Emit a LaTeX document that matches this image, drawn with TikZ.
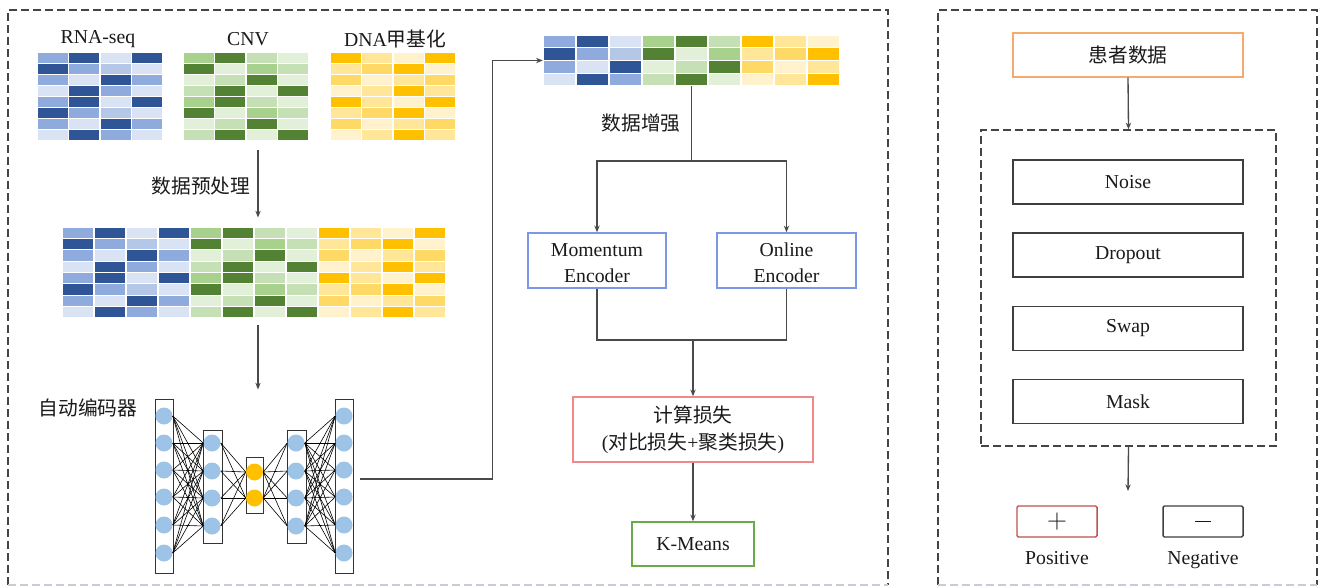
\documentclass[tikz,border=0pt]{standalone}
\usepackage{fontspec}
\setmainfont{Liberation Serif}
\newfontfamily\cjk{Noto Sans CJK SC}
\usetikzlibrary{arrows.meta,calc}
\definecolor{b1}{HTML}{DAE3F3}
\definecolor{b2}{HTML}{B4C7E7}
\definecolor{b3}{HTML}{8FAADC}
\definecolor{b4}{HTML}{2F5597}
\definecolor{g1}{HTML}{E2F0D9}
\definecolor{g2}{HTML}{C5E0B4}
\definecolor{g3}{HTML}{A9D18E}
\definecolor{g4}{HTML}{548235}
\definecolor{y1}{HTML}{FFF2CC}
\definecolor{y2}{HTML}{FFE699}
\definecolor{y3}{HTML}{FFD966}
\definecolor{y4}{HTML}{FFC000}
\definecolor{conn}{HTML}{4A4A4A}
\definecolor{txt}{HTML}{1A1A1A}
\definecolor{encb}{HTML}{7C97E6}
\definecolor{lossr}{HTML}{F08A8A}
\definecolor{kmg}{HTML}{6AAA48}
\definecolor{orng}{HTML}{F5AA6E}
\definecolor{posr}{HTML}{C0504D}
\definecolor{boxk}{HTML}{3F3F3F}
\definecolor{nb}{HTML}{9DC3E6}
\definecolor{nor}{HTML}{FFC000}
\definecolor{pdash}{HTML}{444444}
\definecolor{pdashl}{HTML}{C9CCD6}
% heatmap: x0, y0, cell w, cell h, rows
\newcommand{\heatmap}[5]{%
  \foreach \rw [count=\ri] in {#5}{%
    \foreach \cc [count=\ci] in \rw {%
      \fill[fill=\cc, draw=white, line width=0.8pt]
        ({#1+(\ci-1)*#3},{#2+(\ri-1)*#4}) rectangle ++(#3,#4);
    }%
  }%
}
\begin{document}
\begin{tikzpicture}[x=0.75pt,y=-0.75pt,
  every node/.style={font=\fontsize{14.8}{19.5}\selectfont, text=txt},
  arr/.style={draw=conn, line width=1pt, -{Stealth[length=5pt,width=4pt]}},
  ln/.style={draw=conn, line width=1pt},
  box/.style={draw=#1, line width=1.1pt, fill=white, inner sep=0pt, align=center},
  sym/.style={draw=#1, line width=1.1pt, fill=white, inner sep=0pt, rounded corners=1pt,
    minimum width=60pt, minimum height=23.25pt, font=\fontsize{20}{20}\selectfont},
  panel/.style={draw=pdash, line width=1pt, dash pattern=on 6pt off 3pt},
  panell/.style={draw=pdashl, line width=1pt, dash pattern=on 6pt off 3pt},
  hm/.style={inner sep=0pt, draw=none},
  layer/.style={draw=black!80, line width=0.6pt, inner sep=0pt},
  neuron/.style={circle, fill=#1, inner sep=0pt, minimum size=12.75pt},
  edge/.style={draw=black, line width=0.45pt}]
\useasboundingbox (0,0) rectangle (1323,588);

% ---------- panels ----------
\draw[panel] (8,585) -- (8,10) -- (888,10) -- (888,585);
\draw[panell] (8,585) -- (888,585);
\draw[panel] (938,585) -- (938,10) -- (1317,10) -- (1317,585);
\draw[panell] (938,585) -- (1317,585);

% ---------- top heatmaps ----------
\node (lRNA) at (98,39) {RNA-seq};
\node (lCNV) at (248,39) {CNV};
\node (lDNA) at (395,39) {DNA{\cjk 甲基化}};

\heatmap{37}{52}{31.5}{11.125}{{b3,b4,b1,b4},{b4,b3,b2,b1},{b3,b1,b4,b3},{b1,b4,b3,b1},{b3,b4,b1,b4},{b4,b3,b2,b1},{b3,b1,b4,b3},{b1,b4,b3,b1}}
\heatmap{183}{52}{31.5}{11.125}{{g3,g4,g2,g1},{g4,g1,g3,g2},{g1,g2,g4,g1},{g2,g4,g1,g4},{g3,g4,g2,g1},{g4,g1,g3,g2},{g1,g2,g4,g1},{g2,g4,g1,g4}}
\heatmap{330}{52}{31.5}{11.125}{{y4,y2,y1,y4},{y2,y3,y4,y1},{y3,y1,y2,y3},{y1,y2,y4,y2},{y4,y2,y1,y4},{y2,y3,y4,y1},{y3,y1,y2,y3},{y1,y2,y4,y2}}
\node[hm, minimum width=94.5pt, minimum height=66.75pt] (hmR) at (100,96.5) {};
\node[hm, minimum width=94.5pt, minimum height=66.75pt] (hmC) at (246,96.5) {};
\node[hm, minimum width=94.5pt, minimum height=66.75pt] (hmD) at (393,96.5) {};

% ---------- combined heatmap ----------
\heatmap{62}{227}{32}{11.375}{{b3,b4,b1,b4},{b4,b3,b2,b1},{b3,b1,b4,b3},{b1,b4,b3,b1},{b3,b4,b1,b4},{b4,b3,b2,b1},{b3,b1,b4,b3},{b1,b4,b3,b1}}
\heatmap{190}{227}{32}{11.375}{{g3,g4,g2,g1},{g4,g1,g3,g2},{g1,g2,g4,g1},{g2,g4,g1,g4},{g3,g4,g2,g1},{g4,g1,g3,g2},{g1,g2,g4,g1},{g2,g4,g1,g4}}
\heatmap{318}{227}{32}{11.375}{{y4,y2,y1,y4},{y2,y3,y4,y1},{y3,y1,y2,y3},{y1,y2,y4,y2},{y4,y2,y1,y4},{y2,y3,y4,y1},{y3,y1,y2,y3},{y1,y2,y4,y2}}
\node[hm, minimum width=288pt, minimum height=68.25pt] (hm2) at (254,272.5) {};

\node (lpre) at (201,186) {\cjk 数据预处理};
\draw[arr] ([xshift=9pt,yshift=-6.75pt]hmC.south) -- ([xshift=3pt,yshift=7pt]hm2.north);

% ---------- autoencoder ----------
\node (lae) at (88,408) {\cjk 自动编码器};
\node[hm, minimum width=148.5pt, minimum height=130.5pt] (ae) at (254,486) {};
\draw[arr] ([xshift=3pt,yshift=-5.25pt]hm2.south) -- ([xshift=3pt,yshift=7pt]ae.north);

\node[layer, minimum width=13.5pt, minimum height=130.5pt] (r1) at (164,486) {};
\node[layer, minimum width=14.25pt, minimum height=84.75pt] (r2) at (212.5,486.5) {};
\node[layer, minimum width=12.75pt, minimum height=42pt] (r3) at (254.5,485) {};
\node[layer, minimum width=14.25pt, minimum height=84.75pt] (r4) at (296.5,486.5) {};
\node[layer, minimum width=13.5pt, minimum height=130.5pt] (r5) at (344,486) {};

\foreach \yy [count=\i] in {416,443,470,497,525,553} {
  \node[neuron=nb] (a\i) at (164,\yy) {};
  \node[neuron=nb] (e\i) at (344,\yy) {};
}
\foreach \yy [count=\i] in {443,471,498,526} {
  \node[neuron=nb] (b\i) at (212,\yy) {};
  \node[neuron=nb] (d\i) at (296,\yy) {};
}
\foreach \yy [count=\i] in {472,498} {
  \node[neuron=nor] (c\i) at (254.5,\yy) {};
}
\foreach \i in {1,...,6} {
  \foreach \j in {1,...,4} {
    \draw[edge] (a\i.east) -- (b\j.west);
    \draw[edge] (d\j.east) -- (e\i.west);
  }
}
\foreach \i in {1,...,4} {
  \foreach \j in {1,2} {
    \draw[edge] (b\i.east) -- (c\j.west);
    \draw[edge] (c\j.east) -- (d\i.west);
  }
}

% ---------- top right heatmap ----------
\heatmap{543}{35}{33}{12.75}{{b3,b4,b1,g3,g4,g2,y4,y2,y1},{b4,b3,b2,g4,g1,g3,y2,y3,y4},{b3,b1,b4,g1,g2,g4,y3,y1,y2},{b1,b4,b3,g2,g4,g1,y1,y2,y4}}
\node[hm, minimum width=222.75pt, minimum height=38.25pt] (hm3) at (691.5,60.5) {};

\draw[arr] ([xshift=5.25pt,yshift=5.25pt]r5.east) -| ($(hm3.west)+(-50,0)$) -- (hm3.west);

% ---------- middle flow ----------
\node (laug) at (641,123) {\cjk 数据增强};
\node[box=encb, minimum width=103.5pt, minimum height=41.25pt] (mom) at (597,260.5) {};
\node[box=encb, minimum width=104.25pt, minimum height=41.25pt] (onl) at (786.5,260.5) {};
\node[align=center, inner sep=0pt] (momt) at (597,263) {Momentum\\Encoder};
\node[align=center, inner sep=0pt] (onlt) at (786.5,263) {Online\\Encoder};
\node[box=lossr, minimum width=180pt, minimum height=48.75pt, font=\fontsize{14.8}{20}\selectfont] (loss) at (693,429.5) {{\cjk 计算损失}\\({\cjk 对比损失}+{\cjk 聚类损失})};
\node[box=kmg, minimum width=91.5pt, minimum height=33pt] (km) at (693,544) {K-Means};

\coordinate (split) at (691.5,161);
\coordinate (join) at (693,340);
\draw[ln] (hm3.south) -- (split);
\draw[arr] (split) -| (mom.north);
\draw[arr] (split) -| (onl.north);
\draw[ln] (mom.south) |- (join) -| (onl.south);
\draw[arr] (join) -- (loss.north);
\draw[arr] (loss.south) -- (km.north);

% ---------- right panel ----------
\node[box=orng, minimum width=172.5pt, minimum height=33pt] (pat) at (1128,55) {\cjk 患者数据};
\node[draw=pdash, line width=1pt, dash pattern=on 6pt off 3pt, inner sep=0pt, minimum width=221.25pt, minimum height=237pt] (aug) at (1128.5,288) {};
\node[box=boxk, minimum width=172.5pt, minimum height=33pt] (noise) at (1128,182) {Noise};
\node[box=boxk, minimum width=172.5pt, minimum height=33pt] (drop) at (1128,255) {Dropout};
\node[box=boxk, minimum width=172.5pt, minimum height=33pt] (swap) at (1128,328.5) {Swap};
\node[box=boxk, minimum width=172.5pt, minimum height=33pt] (mask) at (1128,401.5) {Mask};
\draw[arr] (pat.south) -- (aug.north);
\coordinate (outp) at (1128,491);
\draw[arr] (aug.south) -- (outp);

\node[sym=posr] (pos) at (1057,521.5) {};
\node[sym=boxk] (neg) at (1203,521.5) {};
\node[inner sep=0pt, font=\fontsize{20}{20}\selectfont, anchor=center] (plus) at (1057,521.5) {$+$};
\draw[draw=txt, line width=0.6pt] ([xshift=-6pt]neg.center) -- ([xshift=6pt]neg.center);
\node[anchor=base] (lpos) at (1057,564) {Positive};
\node[anchor=base] (lneg) at (1203,564) {Negative};
\end{tikzpicture}
\end{document}
